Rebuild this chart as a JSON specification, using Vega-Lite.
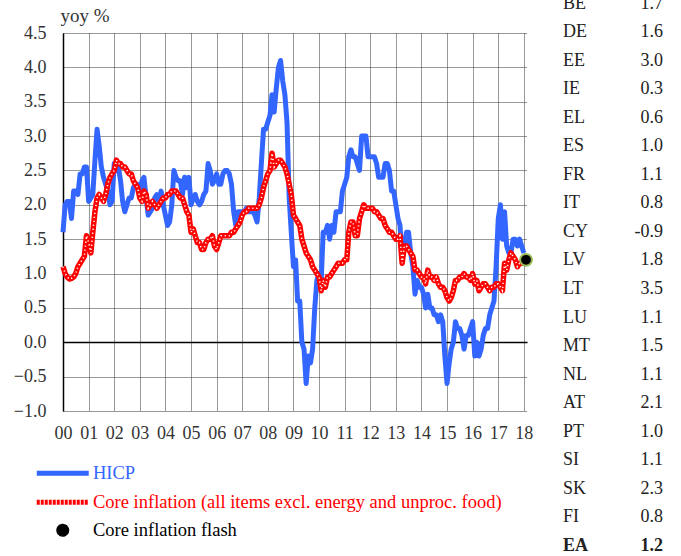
{
  "$schema": "https://vega.github.io/schema/vega-lite/v6.json",
  "width": 464,
  "height": 378,
  "autosize": {"type": "none"},
  "padding": {"left": 63, "top": 33, "right": 154, "bottom": 145},
  "background": "white",
  "config": {"view": {"stroke": null}, "font": "Liberation Serif"},
  "datasets": {
    "monthly": [
      {"d":"2000-01","hicp":1.6,"core":1.1},{"d":"2000-02","hicp":2.0,"core":1.0},{"d":"2000-03","hicp":2.05,"core":0.95},{"d":"2000-04","hicp":2.05,"core":0.92},{"d":"2000-05","hicp":1.8,"core":0.93},{"d":"2000-06","hicp":2.2,"core":0.95},{"d":"2000-07","hicp":2.2,"core":1.0},{"d":"2000-08","hicp":2.15,"core":1.1},{"d":"2000-09","hicp":2.45,"core":1.15},{"d":"2000-10","hicp":2.45,"core":1.2},{"d":"2000-11","hicp":2.55,"core":1.25},{"d":"2000-12","hicp":2.55,"core":1.55},
      {"d":"2001-01","hicp":2.05,"core":1.45},{"d":"2001-02","hicp":2.1,"core":1.3},{"d":"2001-03","hicp":2.15,"core":1.6},{"d":"2001-04","hicp":2.65,"core":1.9},{"d":"2001-05","hicp":3.1,"core":2.1},{"d":"2001-06","hicp":2.85,"core":2.15},{"d":"2001-07","hicp":2.55,"core":2.1},{"d":"2001-08","hicp":2.4,"core":2.05},{"d":"2001-09","hicp":2.3,"core":2.15},{"d":"2001-10","hicp":2.2,"core":2.3},{"d":"2001-11","hicp":2.0,"core":2.4},{"d":"2001-12","hicp":2.05,"core":2.45},
      {"d":"2002-01","hicp":2.6,"core":2.5},{"d":"2002-02","hicp":2.5,"core":2.65},{"d":"2002-03","hicp":2.55,"core":2.6},{"d":"2002-04","hicp":2.35,"core":2.6},{"d":"2002-05","hicp":2.05,"core":2.55},{"d":"2002-06","hicp":1.9,"core":2.55},{"d":"2002-07","hicp":2.0,"core":2.5},{"d":"2002-08","hicp":2.1,"core":2.45},{"d":"2002-09","hicp":2.1,"core":2.45},{"d":"2002-10","hicp":2.25,"core":2.35},{"d":"2002-11","hicp":2.3,"core":2.3},{"d":"2002-12","hicp":2.3,"core":2.25},
      {"d":"2003-01","hicp":2.2,"core":2.1},{"d":"2003-02","hicp":2.35,"core":2.05},{"d":"2003-03","hicp":2.4,"core":2.2},{"d":"2003-04","hicp":2.1,"core":2.15},{"d":"2003-05","hicp":1.85,"core":1.95},{"d":"2003-06","hicp":1.9,"core":2.0},{"d":"2003-07","hicp":1.95,"core":2.05},{"d":"2003-08","hicp":2.1,"core":2.0},{"d":"2003-09","hicp":2.15,"core":1.95},{"d":"2003-10","hicp":2.05,"core":2.0},{"d":"2003-11","hicp":2.2,"core":2.05},{"d":"2003-12","hicp":2.0,"core":2.1},
      {"d":"2004-01","hicp":1.85,"core":2.1},{"d":"2004-02","hicp":1.7,"core":2.15},{"d":"2004-03","hicp":1.75,"core":2.15},{"d":"2004-04","hicp":2.0,"core":2.2},{"d":"2004-05","hicp":2.5,"core":2.2},{"d":"2004-06","hicp":2.4,"core":2.2},{"d":"2004-07","hicp":2.35,"core":2.15},{"d":"2004-08","hicp":2.35,"core":2.1},{"d":"2004-09","hicp":2.15,"core":2.1},{"d":"2004-10","hicp":2.4,"core":2.0},{"d":"2004-11","hicp":2.25,"core":1.9},{"d":"2004-12","hicp":2.4,"core":1.85},
      {"d":"2005-01","hicp":2.0,"core":1.6},{"d":"2005-02","hicp":2.1,"core":1.65},{"d":"2005-03","hicp":2.15,"core":1.55},{"d":"2005-04","hicp":2.05,"core":1.45},{"d":"2005-05","hicp":2.0,"core":1.45},{"d":"2005-06","hicp":2.05,"core":1.35},{"d":"2005-07","hicp":2.15,"core":1.35},{"d":"2005-08","hicp":2.2,"core":1.45},{"d":"2005-09","hicp":2.6,"core":1.5},{"d":"2005-10","hicp":2.5,"core":1.5},{"d":"2005-11","hicp":2.3,"core":1.55},{"d":"2005-12","hicp":2.35,"core":1.4},
      {"d":"2006-01","hicp":2.45,"core":1.35},{"d":"2006-02","hicp":2.3,"core":1.45},{"d":"2006-03","hicp":2.3,"core":1.55},{"d":"2006-04","hicp":2.45,"core":1.55},{"d":"2006-05","hicp":2.5,"core":1.55},{"d":"2006-06","hicp":2.5,"core":1.55},{"d":"2006-07","hicp":2.45,"core":1.55},{"d":"2006-08","hicp":2.3,"core":1.6},{"d":"2006-09","hicp":1.9,"core":1.6},{"d":"2006-10","hicp":1.7,"core":1.65},{"d":"2006-11","hicp":1.9,"core":1.7},{"d":"2006-12","hicp":1.9,"core":1.75},
      {"d":"2007-01","hicp":1.9,"core":1.85},{"d":"2007-02","hicp":1.9,"core":1.9},{"d":"2007-03","hicp":1.95,"core":1.9},{"d":"2007-04","hicp":1.9,"core":1.95},{"d":"2007-05","hicp":1.9,"core":1.95},{"d":"2007-06","hicp":1.9,"core":1.95},{"d":"2007-07","hicp":1.85,"core":1.95},{"d":"2007-08","hicp":1.75,"core":1.95},{"d":"2007-09","hicp":2.1,"core":2.0},{"d":"2007-10","hicp":2.6,"core":2.1},{"d":"2007-11","hicp":3.1,"core":2.25},{"d":"2007-12","hicp":3.1,"core":2.35},
      {"d":"2008-01","hicp":3.2,"core":2.45},{"d":"2008-02","hicp":3.3,"core":2.5},{"d":"2008-03","hicp":3.6,"core":2.75},{"d":"2008-04","hicp":3.35,"core":2.55},{"d":"2008-05","hicp":3.7,"core":2.6},{"d":"2008-06","hicp":4.0,"core":2.65},{"d":"2008-07","hicp":4.1,"core":2.65},{"d":"2008-08","hicp":3.8,"core":2.6},{"d":"2008-09","hicp":3.6,"core":2.55},{"d":"2008-10","hicp":3.2,"core":2.45},{"d":"2008-11","hicp":2.1,"core":2.3},{"d":"2008-12","hicp":1.6,"core":2.15},
      {"d":"2009-01","hicp":1.1,"core":1.85},{"d":"2009-02","hicp":1.2,"core":1.8},{"d":"2009-03","hicp":0.6,"core":1.75},{"d":"2009-04","hicp":0.6,"core":1.7},{"d":"2009-05","hicp":0.0,"core":1.5},{"d":"2009-06","hicp":-0.1,"core":1.4},{"d":"2009-07","hicp":-0.6,"core":1.3},{"d":"2009-08","hicp":-0.2,"core":1.25},{"d":"2009-09","hicp":-0.3,"core":1.2},{"d":"2009-10","hicp":-0.1,"core":1.1},{"d":"2009-11","hicp":0.5,"core":1.05},{"d":"2009-12","hicp":0.9,"core":1.0},
      {"d":"2010-01","hicp":1.0,"core":0.95},{"d":"2010-02","hicp":0.9,"core":0.75},{"d":"2010-03","hicp":1.6,"core":0.9},{"d":"2010-04","hicp":1.6,"core":0.8},{"d":"2010-05","hicp":1.7,"core":0.95},{"d":"2010-06","hicp":1.5,"core":0.95},{"d":"2010-07","hicp":1.7,"core":1.0},{"d":"2010-08","hicp":1.6,"core":1.05},{"d":"2010-09","hicp":1.9,"core":1.1},{"d":"2010-10","hicp":1.9,"core":1.15},{"d":"2010-11","hicp":1.9,"core":1.15},{"d":"2010-12","hicp":2.2,"core":1.15},
      {"d":"2011-01","hicp":2.3,"core":1.2},{"d":"2011-02","hicp":2.4,"core":1.2},{"d":"2011-03","hicp":2.7,"core":1.6},{"d":"2011-04","hicp":2.8,"core":1.75},{"d":"2011-05","hicp":2.7,"core":1.75},{"d":"2011-06","hicp":2.7,"core":1.55},{"d":"2011-07","hicp":2.6,"core":1.55},{"d":"2011-08","hicp":2.5,"core":1.8},{"d":"2011-09","hicp":3.0,"core":1.9},{"d":"2011-10","hicp":3.0,"core":2.0},{"d":"2011-11","hicp":3.0,"core":1.95},{"d":"2011-12","hicp":2.7,"core":1.95},
      {"d":"2012-01","hicp":2.7,"core":1.95},{"d":"2012-02","hicp":2.7,"core":1.95},{"d":"2012-03","hicp":2.7,"core":1.9},{"d":"2012-04","hicp":2.6,"core":1.9},{"d":"2012-05","hicp":2.4,"core":1.85},{"d":"2012-06","hicp":2.4,"core":1.8},{"d":"2012-07","hicp":2.4,"core":1.8},{"d":"2012-08","hicp":2.6,"core":1.7},{"d":"2012-09","hicp":2.6,"core":1.65},{"d":"2012-10","hicp":2.5,"core":1.6},{"d":"2012-11","hicp":2.2,"core":1.6},{"d":"2012-12","hicp":2.2,"core":1.55},
      {"d":"2013-01","hicp":2.0,"core":1.5},{"d":"2013-02","hicp":1.8,"core":1.5},{"d":"2013-03","hicp":1.7,"core":1.55},{"d":"2013-04","hicp":1.2,"core":1.15},{"d":"2013-05","hicp":1.4,"core":1.4},{"d":"2013-06","hicp":1.6,"core":1.4},{"d":"2013-07","hicp":1.6,"core":1.35},{"d":"2013-08","hicp":1.3,"core":1.3},{"d":"2013-09","hicp":1.1,"core":1.25},{"d":"2013-10","hicp":0.7,"core":1.05},{"d":"2013-11","hicp":0.9,"core":1.05},{"d":"2013-12","hicp":0.8,"core":1.0},
      {"d":"2014-01","hicp":0.8,"core":0.95},{"d":"2014-02","hicp":0.7,"core":0.95},{"d":"2014-03","hicp":0.5,"core":0.85},{"d":"2014-04","hicp":0.7,"core":1.05},{"d":"2014-05","hicp":0.5,"core":0.95},{"d":"2014-06","hicp":0.5,"core":0.95},{"d":"2014-07","hicp":0.4,"core":0.9},{"d":"2014-08","hicp":0.4,"core":0.95},{"d":"2014-09","hicp":0.3,"core":0.85},{"d":"2014-10","hicp":0.4,"core":0.8},{"d":"2014-11","hicp":0.3,"core":0.8},{"d":"2014-12","hicp":-0.2,"core":0.75},
      {"d":"2015-01","hicp":-0.6,"core":0.65},{"d":"2015-02","hicp":-0.3,"core":0.6},{"d":"2015-03","hicp":-0.1,"core":0.65},{"d":"2015-04","hicp":0.0,"core":0.75},{"d":"2015-05","hicp":0.3,"core":0.9},{"d":"2015-06","hicp":0.2,"core":0.9},{"d":"2015-07","hicp":0.2,"core":0.95},{"d":"2015-08","hicp":0.1,"core":0.95},{"d":"2015-09","hicp":-0.1,"core":1.0},{"d":"2015-10","hicp":0.1,"core":0.95},{"d":"2015-11","hicp":0.1,"core":0.95},{"d":"2015-12","hicp":0.2,"core":0.9},
      {"d":"2016-01","hicp":0.3,"core":1.0},{"d":"2016-02","hicp":-0.2,"core":0.85},{"d":"2016-03","hicp":0.0,"core":0.9},{"d":"2016-04","hicp":-0.2,"core":0.75},{"d":"2016-05","hicp":-0.1,"core":0.8},{"d":"2016-06","hicp":0.1,"core":0.85},{"d":"2016-07","hicp":0.2,"core":0.85},{"d":"2016-08","hicp":0.2,"core":0.8},{"d":"2016-09","hicp":0.4,"core":0.75},{"d":"2016-10","hicp":0.5,"core":0.8},{"d":"2016-11","hicp":0.6,"core":0.8},{"d":"2016-12","hicp":1.1,"core":0.85},
      {"d":"2017-01","hicp":1.8,"core":0.85},{"d":"2017-02","hicp":2.0,"core":0.8},{"d":"2017-03","hicp":1.5,"core":0.75},{"d":"2017-04","hicp":1.9,"core":1.15},{"d":"2017-05","hicp":1.4,"core":1.05},{"d":"2017-06","hicp":1.3,"core":1.2},{"d":"2017-07","hicp":1.3,"core":1.3},{"d":"2017-08","hicp":1.5,"core":1.25},{"d":"2017-09","hicp":1.5,"core":1.2},{"d":"2017-10","hicp":1.4,"core":1.1},{"d":"2017-11","hicp":1.5,"core":1.15},{"d":"2017-12","hicp":1.4,"core":1.15},
      {"d":"2018-01","hicp":1.3,"core":1.2}
    ],
    "flash": [{"d": "2018-02", "value": 1.2}],
    "table": [
      {"country":"BE","rate":"1.7"},{"country":"DE","rate":"1.6"},{"country":"EE","rate":"3.0"},{"country":"IE","rate":"0.3"},{"country":"EL","rate":"0.6"},{"country":"ES","rate":"1.0"},{"country":"FR","rate":"1.1"},{"country":"IT","rate":"0.8"},{"country":"CY","rate":"-0.9"},{"country":"LV","rate":"1.8"},{"country":"LT","rate":"3.5"},{"country":"LU","rate":"1.1"},{"country":"MT","rate":"1.5"},{"country":"NL","rate":"1.1"},{"country":"AT","rate":"2.1"},{"country":"PT","rate":"1.0"},{"country":"SI","rate":"1.1"},{"country":"SK","rate":"2.3"},{"country":"FI","rate":"0.8"},{"country":"EA","rate":"1.2"}
    ]
  },
  "layer": [
    {
      "encoding": {
        "x": {
          "field": "d", "type": "temporal", "title": null,
          "scale": {"type": "utc", "domain": [{"year": 2000, "month": 1, "date": 1, "utc": true}, {"year": 2018, "month": 2, "date": 15, "utc": true}]},
          "axis": {
            "values": [{"year":2000,"utc":true},{"year":2001,"utc":true},{"year":2002,"utc":true},{"year":2003,"utc":true},{"year":2004,"utc":true},{"year":2005,"utc":true},{"year":2006,"utc":true},{"year":2007,"utc":true},{"year":2008,"utc":true},{"year":2009,"utc":true},{"year":2010,"utc":true},{"year":2011,"utc":true},{"year":2012,"utc":true},{"year":2013,"utc":true},{"year":2014,"utc":true},{"year":2015,"utc":true},{"year":2016,"utc":true},{"year":2017,"utc":true},{"year":2018,"utc":true}],
            "format": "%y", "grid": true, "gridColor": "#333333", "gridDash": [1, 1], "gridWidth": 1,
            "domain": false, "ticks": false, "tickSize": 0, "labelPadding": 13, "labelFontSize": 18,
            "labelColor": "#333333", "labelFont": "Liberation Serif", "labelFlush": false, "labelOverlap": false
          }
        },
        "y": {
          "field": "value", "type": "quantitative", "title": "yoy %",
          "scale": {"domain": [-1, 4.5], "nice": false, "zero": false},
          "axis": {
            "values": [-1, -0.5, 0, 0.5, 1, 1.5, 2, 2.5, 3, 3.5, 4, 4.5],
            "format": ".1f", "grid": true,
            "gridColor": {"condition": {"test": "datum.value === 0", "value": "#000000"}, "value": "#333333"},
            "gridDash": {"condition": {"test": "datum.value === 0", "value": []}, "value": [1, 1]},
            "gridWidth": {"condition": {"test": "datum.value === 0", "value": 1.5}, "value": 1},
            "domain": true, "domainColor": "#000000", "domainWidth": 1.5, "ticks": false, "tickSize": 0,
            "labelPadding": 17, "labelFontSize": 18, "labelColor": "#333333", "labelFont": "Liberation Serif",
            "labelOverlap": false,
            "titleAngle": 0, "titleAlign": "left", "titleBaseline": "middle", "titleX": -3, "titleY": -18,
            "titleFont": "Liberation Serif", "titleFontSize": 19, "titleFontWeight": "normal", "titleColor": "#333333"
          }
        }
      },
      "layer": [
        {
          "data": {"name": "monthly"},
          "transform": [{"fold": ["hicp"], "as": ["series", "value"]}],
          "mark": {"type": "line", "color": "#3366ff", "strokeWidth": 5, "strokeJoin": "round"},
          "encoding": {
            "color": {
              "datum": "HICP",
              "scale": {
                "domain": ["HICP", "Core inflation (all items excl. energy and unproc. food)", "Core inflation flash"],
                "range": ["#3366ff", "#ff0000", "#000000"]
              },
              "legend": {
                "orient": "none", "legendX": -27, "legendY": 431, "direction": "vertical", "title": null,
                "padding": 0, "symbolSize": 2704, "symbolOffset": 17.5, "labelFont": "Liberation Serif", "labelFontSize": 18.5,
                "labelOffset": 21, "labelLimit": 0, "rowPadding": 8, "symbolOpacity": 1,
                "symbolType": {"expr": "datum.value === 'Core inflation flash' ? 'M-0.22,0A0.22,0.22,0,1,1,0.22,0A0.22,0.22,0,1,1,-0.22,0Z' : 'M-1,0L1,0'"},
                "symbolFillColor": {"expr": "datum.value === 'Core inflation flash' ? '#000000' : 'transparent'"},
                "symbolStrokeColor": {"expr": "datum.value === 'HICP' ? '#3366ff' : (datum.value === 'Core inflation flash' ? '#9bbb59' : '#ff0000')"},
                "symbolStrokeWidth": {"expr": "datum.value === 'Core inflation flash' ? 1.5 : 5"},
                "symbolDash": {"expr": "datum.value === 'HICP' || datum.value === 'Core inflation flash' ? [1, 0] : [3, 1]"},
                "labelColor": {"expr": "datum.value === 'HICP' ? '#3366ff' : (datum.value === 'Core inflation flash' ? '#000000' : '#ff0000')"}
              }
            }
          }
        },
        {
          "data": {"name": "monthly"},
          "transform": [{"fold": ["core"], "as": ["series", "value"]}],
          "mark": {"type": "line", "color": "#ff0000", "strokeWidth": 5.5, "strokeJoin": "round"},
          "encoding": {
            "color": {"datum": "Core inflation (all items excl. energy and unproc. food)"}
          }
        },
        {
          "data": {"name": "monthly"},
          "transform": [{"fold": ["core"], "as": ["series", "value"]}],
          "mark": {"type": "line", "color": "#ffffff", "strokeWidth": 1.6, "strokeDash": [1.2, 2.8]},
          "encoding": {}
        },
        {
          "data": {"name": "flash"},
          "mark": {"type": "circle", "size": 140, "stroke": "#9bbb59", "strokeWidth": 2, "opacity": 1},
          "encoding": {
            "color": {"datum": "Core inflation flash"}
          }
        }
      ]
    },
    {
      "data": {"name": "table"},
      "encoding": {
        "y": {"field": "country", "type": "nominal", "sort": null, "scale": {"type": "point", "range": [-29.5, 513], "padding": 0}, "axis": null}
      },
      "layer": [
        {
          "mark": {"type": "text", "align": "left", "baseline": "middle", "fontSize": 18, "font": "Liberation Serif", "color": "#222222", "fontWeight": {"expr": "datum.country === 'EA' ? 'bold' : 'normal'"}},
          "encoding": {
            "x": {"datum": "country", "type": "nominal", "scale": {"type": "point", "domain": ["country", "rate"], "range": [500, 600], "padding": 0}, "axis": null},
            "text": {"field": "country"}
          }
        },
        {
          "mark": {"type": "text", "align": "right", "baseline": "middle", "fontSize": 18, "font": "Liberation Serif", "color": "#222222", "fontWeight": {"expr": "datum.country === 'EA' ? 'bold' : 'normal'"}},
          "encoding": {
            "x": {"datum": "rate", "type": "nominal"},
            "text": {"field": "rate"}
          }
        }
      ]
    }
  ],
  "resolve": {"scale": {"x": "independent", "y": "independent"}}
}
